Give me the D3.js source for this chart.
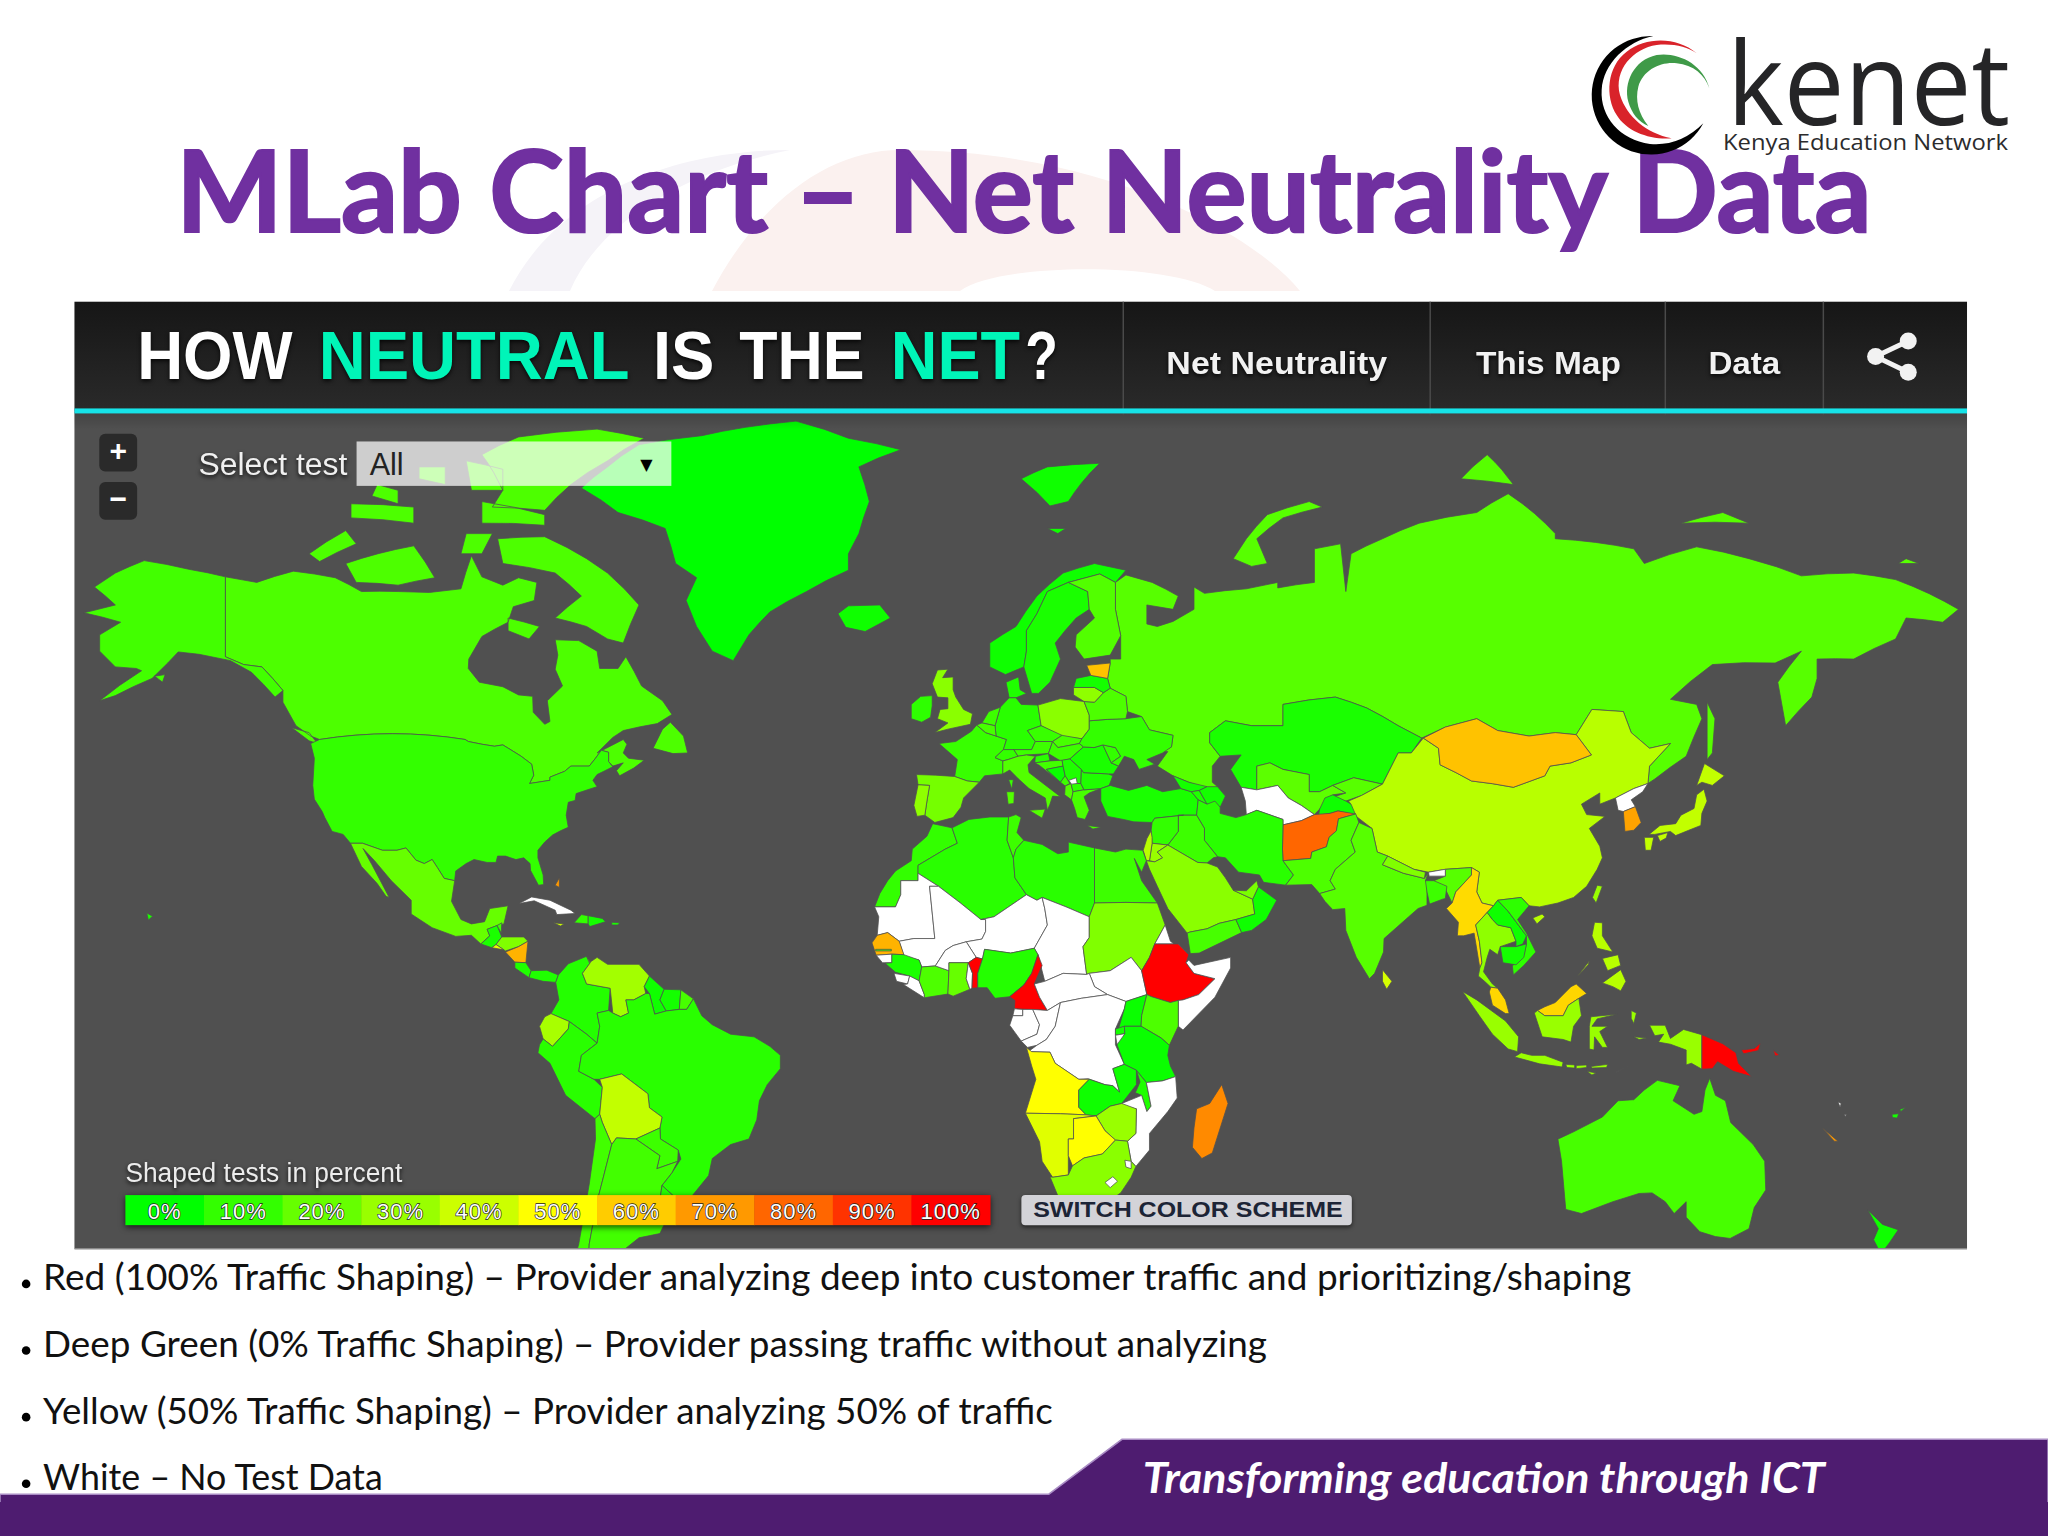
<!DOCTYPE html>
<html><head><meta charset="utf-8">
<script src="https://cdn.jsdelivr.net/npm/d3@7/dist/d3.min.js"></script>
<style>html,body{margin:0;padding:0;background:#fff}svg{display:block}</style>
</head><body><svg id="c" width="2048" height="1536" viewBox="0 0 2048 1536"></svg>
<script>
// ---------- data ----------
const countryNames = ["Greenland","Iceland","Canada","Alaska","USA","Mexico","Guatemala","Belize","Honduras","El Salvador","Nicaragua","Costa Rica","Panama","Cuba","Jamaica","Haiti","Dominican Rep.","Puerto Rico","Bahamas","Hawaii",
"Colombia","Venezuela","Guyana","Suriname","French Guiana","Ecuador","Peru","Brazil","Bolivia","Paraguay","Chile","Argentina","Uruguay",
"Russia","Norway","Sweden","Finland","Denmark","UK","Ireland","France","Spain","Portugal","Germany","Netherlands","Belgium","Switzerland","Austria","Italy","Poland","Czechia","Slovakia","Hungary","Slovenia","Croatia","Bosnia","Serbia","Montenegro","Albania","Macedonia","Kosovo","Greece","Bulgaria","Romania","Moldova","Ukraine","Belarus","Lithuania","Latvia","Estonia",
"Turkey","Georgia","Armenia","Azerbaijan","Kazakhstan","Uzbekistan","Turkmenistan","Kyrgyzstan","Tajikistan","China","Mongolia","North Korea","South Korea","Japan","Taiwan","Afghanistan","Iran","Pakistan","Iraq","Syria","Jordan","Israel","Saudi Arabia","Yemen","Oman","UAE","India","Nepal","Bhutan","Bangladesh","Myanmar","Thailand","Laos","Vietnam","Cambodia","Malaysia","Indonesia","Timor","Papua New Guinea","Philippines","Sri Lanka","Australia","New Zealand","New Caledonia","Vanuatu","Fiji",
"Morocco","Algeria","Tunisia","Libya","Egypt","Mauritania","Mali","Niger","Chad","Sudan","South Sudan","Eritrea","Ethiopia","Somalia","Senegal","Gambia","Guinea-Bissau","Guinea","Sierra Leone","Liberia","Ivory Coast","Burkina Faso","Ghana","Togo","Benin","Nigeria","Cameroon","CAR","Eq. Guinea","Gabon","Congo","DRC","Uganda","Kenya","Rwanda","Burundi","Tanzania","Angola","Zambia","Malawi","Mozambique","Zimbabwe","Namibia","Botswana","South Africa","Lesotho","Swaziland","Madagascar"];
const shapedPercent = [0,3,15,13,10,20,5,12,25,45,65,6,6,null,40,10,4,5,70,5,
7,32,3,4,14,33,8,8,38,12,13,13,7,
17,3,5,16,6,27,9,11,23,28,8,12,14,10,12,16,27,11,14,12,8,13,2,6,12,16,9,null,14,6,5,10,10,15,28,4,62,
5,4,6,4,5,18,null,17,3,36,62,null,68,38,30,80,8,15,12,10,30,36,27,14,3,24,17,25,null,12,57,28,3,9,4,58,30,null,100,36,42,14,3,70,null,4,
10,8,12,8,12,null,null,null,null,25,null,null,100,null,65,12,null,5,null,null,15,null,20,null,100,7,100,null,null,null,null,null,2,15,4,null,2,50,3,6,null,30,44,50,27,null,null,73];

const outlines = {
"Greenland":["-73,78.2 -68,80 -62,81.8 -50,82.5 -32,83.6 -22,82.3 -12,81.4 -20,80 -18,77 -20,74 -22,72 -22,70.3 -30,68 -37,65.7 -41,63 -44,59.8 -48,61 -51,64 -53,67 -51,69.5 -55,71 -57,74.5 -66,76"],
"Iceland":["-24,65.5 -22,66.4 -16,66.5 -14,65 -18.8,63.4 -22.5,63.9"],
"Canada":["-141,69.6 -135,69 -128,70.2 -120,69.5 -115,68 -108,68 -102,67.9 -96,68.3 -94,71.8 -92,69.6 -88,68.7 -85,69.5 -81.5,69 -82,67 -86,66.3 -87,64.5 -92,62.8 -94.5,60 -94.6,58.8 -92.5,57 -88,56.4 -85,55.3 -82.3,55.1 -82.2,52.9 -80,51.2 -79,51.6 -79.5,54.5 -76.6,56.5 -78,58.7 -77.5,60.5 -78,62.4 -73.5,62.3 -70,61 -69.5,58.8 -66,58.8 -64.5,60.3 -61.5,56.5 -57.5,54.5 -55.7,52.6 -58.5,51.3 -65,50.3 -67,49.3 -70,47 -65,49 -64.3,48.3 -65,47 -64,46.2 -61,45.9 -63,44.7 -65.7,43.5 -66.3,44.3 -65,45.5 -67,45 -67.8,45.7 -67.8,47.1 -69.2,47.4 -70.3,46.2 -71.5,45 -75,45 -76.2,44.2 -79,43.3 -79,42.8 -82.9,42.3 -82.1,43.6 -82.5,45.3 -84.5,46.5 -88,48.2 -89.6,48 -92,48.3 -94.6,48.7 -95.2,49 -123,49 -124.7,49.5 -127.5,51 -130,54.3 -130,55.9 -134,59 -137.5,59.3 -141,60.3",
"-80,73.7 -72,71.5 -68,70 -62,66.5 -65,62 -68,62.5 -72,64 -78,65 -73,67.5 -78,70 -88,71 -89,73.5","-118,71 -105,72.8 -101,69.5 -108,68.7 -116,69","-125,72 -118,74.3 -116,73 -123,71.2","-90,76.5 -80,76.2 -75,78.5 -68,80.5 -61,82.3 -70,83 -85,82.4 -92,81 -88,78","-92,75 -80,74.8 -80,75.8 -92,77","-117,75.5 -105,75 -105,76.5 -117,76.8","-95,74 -90,74 -92,72 -96,72","-95,80.5 -88,79.8 -88,78 -94,78","-59.3,47.7 -55.5,46.9 -52.7,47 -53.5,49.5 -56,51.5 -57.5,50.5","-87,65 -81,64 -83,62.5 -87,63.5","-128.3,50.7 -125,50 -123.4,48.4 -125,48.8","-104,79 -99,78.5 -99,80 -104,80","-112,78.5 -108,78 -108,76.8 -113,77.5"],
"Alaska":["-141,69.6 -148,70.4 -156.5,71.3 -162,70 -166,68.5 -162,66.5 -168,65.6 -161,64.5 -165,63 -165,61 -162,59 -158,58.8 -157,58.5 -165,54.5 -162,55.2 -155,57.5 -152,59.5 -150,60.9 -146,60.6 -140,59.8 -136,58.3 -131.5,55 -130,55.9 -134,59 -137.5,59.3 -141,60.3","-154.5,57.8 -152.5,58 -153,57"],
"USA":["-124.7,48.4 -123,49 -95.2,49 -94.6,48.7 -92,48.3 -89.6,48 -88,48.2 -84.5,46.5 -82.5,45.3 -82.1,43.6 -82.9,42.3 -79,42.8 -79,43.3 -76.2,44.2 -75,45 -71.5,45 -70.3,46.2 -69.2,47.4 -67.8,47.1 -67.8,45.7 -67,44.9 -68.5,44.3 -70,43.7 -70.8,42.8 -70,41.8 -71.5,41.4 -74,40.7 -74.2,39.6 -75.5,39.3 -75.9,37.2 -75.5,35.2 -77,34.6 -78.5,33.9 -80,32.7 -81.3,31.3 -81.3,30 -80.3,27 -80.2,25.3 -81.2,25.2 -82.7,27.8 -82.8,29 -84,30 -85.5,29.7 -87.5,30.3 -89,30.3 -89.3,29.2 -91,29.2 -93.5,29.7 -95,29 -97,27.7 -97.2,26 -99.2,26.4 -100.5,28.3 -101.5,29.7 -103,29 -104.6,29.6 -106.5,31.7 -108.2,31.3 -111,31.3 -114.8,32.5 -117.1,32.5 -118.5,34 -120.6,34.5 -122,36.8 -122.5,37.8 -124,39.8 -124.3,42 -124,46.2"],
"Mexico":["-117.1,32.5 -114.8,32.5 -111,31.3 -108.2,31.3 -106.5,31.7 -104.6,29.6 -103,29 -101.5,29.7 -100.5,28.3 -99.2,26.4 -97.2,26 -97.8,22.3 -96,19 -94,18.2 -91.5,18.6 -90.5,21 -87,21.5 -87.8,18.2 -89.1,17.9 -91,17.2 -90.5,16 -92.2,14.5 -94,16.1 -97,15.9 -101.5,17.5 -105.5,20 -105.5,22.5 -109.3,26 -112.5,29.5 -114.7,31.6 -113,28.8 -109.7,23 -110.3,23.2 -112,25.5 -115,28.5"],
"Guatemala":["-92.2,14.5 -90.5,16 -91,17.2 -89.1,17.9 -88.2,15.8 -89.3,14.4 -90.1,13.8"],
"Belize":["-89.1,17.9 -88.2,18.4 -88.3,16.5"],
"Honduras":["-88.2,15.8 -84,15.8 -83.2,15 -85,14 -87.5,13.2 -89.3,14.4"],
"El Salvador":["-90.1,13.8 -89.3,14.4 -87.8,13.4"],
"Nicaragua":["-87.5,13 -85,14 -83.2,15 -83.6,11 -85.7,11.1"],
"Costa Rica":["-85.7,11.1 -83.6,11 -82.6,9.5 -83,8.2 -85.7,10"],
"Panama":["-83,8.2 -82.6,9.5 -79.6,9.6 -77.4,8.7 -77.9,7.3 -80.3,7.5"],
"Cuba":["-84.9,21.9 -82.5,23.1 -79,22.5 -75,20.7 -74.2,20.1 -77.7,19.9 -78,20.7 -82,22.4"],
"Jamaica":["-78.3,18.4 -76.3,18.2 -77,17.8"],
"Haiti":["-74.4,18.4 -73,19.9 -71.7,19.7 -71.7,18.2"],
"Dominican Rep.":["-71.7,19.7 -69,19.2 -68.4,18.6 -71.4,17.7 -71.7,18.2"],
"Puerto Rico":["-67.2,18.5 -65.7,18.4 -66,18 -67.2,18"],
"Bahamas":["-78,25.2 -77.2,26.5 -77.2,24.8"],
"Hawaii":["-156,20.2 -154.9,19.6 -155.7,18.9"],
"Colombia":["-77.4,8.7 -75.5,10.8 -72,12.2 -71.3,11 -72.8,9 -72,7 -67.5,6.2 -67.8,2 -70,1.5 -69.5,-1 -70,-4.2 -72,-2.5 -75.3,-0.1 -78.8,1.4 -77.3,4 -77.9,7.3"],
"Venezuela":["-72,12.2 -71.5,11 -70,12 -68,10.7 -62,10.7 -60,8.5 -61,6.5 -60.7,5.2 -63,4 -64.5,4 -64,1.5 -65.5,0.8 -67,1.5 -67.5,6.2 -72,7 -72.8,9 -71.3,11"],
"Guyana":["-60,8.5 -57.2,6 -58,4 -56.8,1.9 -59,1.3 -60,5.2 -61,6.5"],
"Suriname":["-57.2,6 -54,5.9 -54.3,2.2 -56.8,1.9 -58,4"],
"French Guiana":["-54,5.9 -51.6,4.2 -52.9,2.2 -54.3,2.2"],
"Ecuador":["-78.8,1.4 -75.3,-0.1 -75.5,-1.5 -78.5,-4.8 -80.3,-3.4 -81,-1 -80,0.8"],
"Peru":["-81,-4.5 -80.3,-3.4 -78.5,-4.8 -75.5,-1.5 -75.3,-0.1 -72,-2.5 -70,-4.2 -73,-6.5 -73.5,-9.5 -70.6,-11 -69,-12.5 -69.5,-17.5 -70.4,-18.3 -76,-14 -79,-8 -81.3,-6"],
"Brazil":["-60,5.2 -59,1.3 -56.8,1.9 -54.3,2.2 -52.9,2.2 -51.6,4.2 -50,1 -48,-0.7 -44.5,-2.5 -40,-3 -37,-4.8 -35,-6.5 -35,-9 -37.5,-12 -39,-15 -39.5,-18.5 -41,-22 -44.5,-23 -48,-25.5 -48.7,-28.5 -53.4,-33.7 -57.6,-30.2 -55.7,-28 -54,-25.6 -54.5,-24 -57.9,-22 -58,-20 -57.6,-18 -60,-16.3 -60.3,-13.7 -65.3,-10 -69.5,-11 -70.6,-11 -73.5,-9.5 -73,-6.5 -70,-4.2 -69.5,-1 -70,1.5 -67.8,2 -67,1.5 -65.5,0.8 -64,1.5 -64.5,4 -63,4 -60.7,5.2"],
"Bolivia":["-69.5,-11 -65.3,-10 -60.3,-13.7 -60,-16.3 -57.6,-18 -58,-20 -62.6,-22 -66.3,-21.8 -67.2,-23 -69,-19 -69.5,-17.5 -69,-12.5"],
"Paraguay":["-62.6,-22 -58,-20 -57.9,-22 -54.5,-24 -54.6,-26 -58.6,-27.3 -58,-25"],
"Chile":["-70.4,-18.3 -69.5,-17.5 -69,-19 -67.2,-23 -68.3,-27 -70,-33 -71.5,-40 -72,-48 -72.4,-52 -68.5,-52.3 -69,-55 -74,-52 -75.5,-46 -73.5,-40 -71.5,-30 -70.3,-22"],
"Argentina":["-67.2,-23 -66.3,-21.8 -62.6,-22 -58,-25 -58.6,-27.3 -54.6,-26 -55.7,-28 -57.6,-30.2 -58.2,-34 -57,-36.5 -58,-38.3 -62,-39 -65,-41 -65.5,-45 -68,-50 -68.5,-52.3 -72.4,-52 -72,-48 -71.5,-40 -70,-33 -68.3,-27"],
"Uruguay":["-57.6,-30.2 -53.4,-33.7 -54.9,-35 -58.2,-34"],
"Russia":["28,60 30,60 30,62.9 29,66 29,69 31,69.8 36,69 41,67.5 40,66 35,66.5 35,64.3 37,64 40,64.6 44,66 44,68.5 46,67.8 54,68.3 60,69 60,68.4 67,69 67,72.5 72,73 73,68 74,72 80,73.5 87,75 98,76 104,77.7 113,74 113,73.5 128,72.5 130,71 140,72.7 150,71.5 160,69.7 170,70 178,69.3 190,66 187,64.5 180,65 178,62.5 170,60 163,60 163,57.5 162,55 157,51 155.5,57 160,61 155,59.5 143,59.3 135,54.7 140,54 141,52 138,46.5 132,43 130.7,42.3 131,45 135,48.4 131,47.7 127.5,50 126,53 120,53.3 117,49.7 113,50 108,49.5 102,50.3 98,52 92,50.8 87.5,49.2 83,51 77,53.5 71,55 61,54 61,51 55,51 50,51.7 47,50 47,48.5 49,46.5 47.5,45 47.5,42.5 48.5,41.8 47,41.3 43,42.5 40,43.5 37,45 39,47.2 38,47.2 39.7,47.9 40,49.6 35.5,50.4 34,52.3 31.3,53 31,55.1 28,56.2 27.5,57.5 28,59.5",
"142,54.3 143.5,52 143,47 142,46 142,50","51.5,71.5 55,70.7 58,71 56,73.5 61,75.5 68.5,76.5 66,77 58,75.8 54,73.5","95,79 105,78.5 100,81","137,75 150,75 145,76","178.5,71 182.5,71 180,71.5"],
"Norway":["5,59 5,62 10,64 14,67.5 19,70 25,71 31,70.3 29,69 26,69.9 20,69 16,68 14,65.5 12,63.5 12,61 11.5,59 8,58","11,79 16,80 26,80.3 20,77 16.5,76.6","16,74.5 19.5,74.5 18,74"],
"Sweden":["11.5,59 12,61 12,63.5 14,65.5 16,68 20,69 23.7,68 24,66 21.5,65 17.5,62 18.5,60 16.5,57 14.3,55.5 13,55.5"],
"Finland":["20,69 26,69.9 29,69 29,66 30,62.9 28,60.5 23,60 21.3,61.5 21.5,63 25,65 24,66 23.7,68"],
"Denmark":["8.1,57 10.5,57.7 10.8,56 12,55.5 10,54.9 8.7,54.9"],
"UK":["-5.5,50 -3,50.5 1.3,51.2 1.7,52.7 0,53.3 -1.5,55 -2,56 -2,57.7 -4,57.6 -3,58.7 -5,58.6 -6,56.8 -5,55 -3,54.9 -3,53.4 -4.5,53.3 -5,52 -3,51.4"],
"Ireland":["-6,55.2 -8.2,55.1 -10,54 -10,52 -8,51.5 -6.3,52.2 -6,53.8"],
"France":["-1.7,43.4 -1.2,46 -4.7,48.4 -1.5,48.7 1.5,50.2 2.5,51.1 4.2,50 8.2,49 7.6,47.5 6,46.3 7.5,45.8 7.5,43.8 4,43.5 3,42.5 0.7,42.7","8.6,42.9 9.5,42.9 9.2,41.4"],
"Spain":["-9,43.7 -1.7,43.4 0.7,42.7 3,42.5 0,40 -0.5,38.5 -2,36.8 -5.5,36 -7.4,37.2 -7,39.5 -6.5,42 -8.7,42.1"],
"Portugal":["-8.7,42.1 -6.5,42 -7,39.5 -7.4,37.2 -8.9,37 -9.5,38.8"],
"Germany":["7,53.6 8.7,54.9 10,54.9 11,54 14.2,53.9 14.8,51 12.2,50.3 13.7,48.7 13,47.5 7.6,47.5 8.2,49 6.2,49.5 6,51"],
"Netherlands":["3.5,51.4 4.8,53 7,53.6 6,51"],
"Belgium":["2.5,51.1 3.5,51.4 6,51 6.2,49.5 4.2,50"],
"Switzerland":["6,46.3 7.6,47.5 9.6,47.5 10.4,46.5 8.5,46 7.5,45.8"],
"Austria":["9.6,47.5 13,47.5 13.7,48.7 17,48.7 16.2,46.9 12,46.7 10.4,46.5"],
"Italy":["7.5,43.8 7.5,45.8 8.5,46 10.4,46.5 12,46.7 13.7,46.5 12.3,45.2 12.5,44 16,41.8 18.5,40.2 17,40.3 16.5,39 16,38 15.6,40 12.5,41.5 10.5,43 8.8,44.4","12.5,38 15.6,38.2 15,36.7","8.2,41 9.7,41 9.6,39.1 8.5,39"],
"Poland":["14.2,53.9 18.5,54.8 23,54.4 24,52.5 24,50.5 22.6,49.1 19,49.4 14.8,51"],
"Czechia":["12.2,50.3 14.8,51 18.8,49.6 17,48.7 13.7,48.7"],
"Slovakia":["17,48.7 18.8,49.6 22.6,49.1 22.1,48.4 18,47.8"],
"Hungary":["16.2,46.9 17,48.7 18,47.8 22.1,48.4 22.9,47.9 20.3,46.1 18.5,45.8"],
"Slovenia":["13.7,46.5 16.2,46.9 16.5,45.8 13.6,45.5"],
"Croatia":["13.6,45.5 16.5,45.8 18.8,45.9 19,45 15.8,44.5 18.5,42.5 14.5,45.1"],
"Bosnia":["15.8,44.5 19,45 19.4,43.5 18.5,42.5"],
"Serbia":["18.8,45.9 20.3,46.1 22.5,44.5 22.4,42.3 20.3,42.3 19.4,43.5 19,45"],
"Montenegro":["18.5,42.5 19.4,43.5 20.3,42.3 19.4,41.9"],
"Albania":["19.4,41.9 20.5,42.3 20.9,41 20.6,39.7 19.3,40.5"],
"Macedonia":["20.5,42.3 22.4,42.3 23,41.3 20.9,41"],
"Kosovo":["20.1,42.8 21.5,43.2 21.7,42.3 20.6,42.2"],
"Greece":["20.6,39.7 20.9,41 23,41.3 26.2,41.5 24,40.8 23,40.2 24,38 23.2,36.5 21.7,36.8 21.2,38.3","23.6,35.5 26.3,35.2 24.7,34.9"],
"Bulgaria":["22.5,44.5 22.9,44 27.7,43.8 28.5,43.5 27.8,42 26.2,41.5 23,41.3 22.4,42.3"],
"Romania":["20.3,46.1 22.9,47.9 24.9,47.8 26.6,48.2 28.2,45.5 29.6,45 28.6,43.8 27.7,43.8 22.9,44 22.5,44.5"],
"Moldova":["26.6,48.2 29,47.8 30,46.5 28.2,45.5"],
"Ukraine":["24,50.5 24,51.7 31,52 34,52.3 35.5,50.4 40,49.6 39.7,47.9 38,47 35,46 36.5,45.3 33.5,44.5 32.5,46 30.7,46.5 29.6,45 28.2,45.5 30,46.5 29,47.8 26.6,48.2 24.9,47.8 22.9,47.9 22.1,48.4 22.6,49.1"],
"Belarus":["24,52.5 23,54.4 25,54.3 26.7,55.6 28,56.2 31,55.1 31.3,53 31,52 24,51.7"],
"Lithuania":["21,55.3 21,56.3 25,56.3 26.7,55.6 25,54.3 23,54.4"],
"Latvia":["21,56.3 21.5,57.5 24.3,57.9 27.5,57.5 28,56.2 26.7,55.6 25,56.3"],
"Estonia":["23.5,59.2 28,59.5 27.5,57.5 24.3,57.9"],
"Turkey":["26.2,41.5 28,42 31.5,41.2 35,42 38,41 41.5,41.5 43.5,41 44.8,39.7 44.5,37.2 42,37.2 36.5,36.7 36,36 32.5,36.1 30.5,36.5 27.5,37 26.2,39.5"],
"Georgia":["40,43.5 43,42.5 46.5,41.8 45,41.2 43.5,41 41.5,41.5"],
"Armenia":["43.5,41 45,41.2 46.5,39 44.8,39.7"],
"Azerbaijan":["46.5,41.8 48.5,41.8 50,40.3 49,38.5 46.5,39 45,41.2"],
"Kazakhstan":["47,50 50,51.7 55,51 61,51 61,54 71,55 77,53.5 83,51 87.5,49.2 85.5,47 83,47 80,42.2 74.5,43.2 70.5,42 68,41 66,41 66,43.7 61,44.5 58.5,45.5 56,45 56,41.3 53,41.7 51,44.5 53,46.7 49,46.5 47,48.5"],
"Uzbekistan":["56,45 58.5,45.5 61,44.5 66,43.7 66,41 68,41 70.5,42 73,40.8 70.5,40.5 68,38.2 67,37.3 64.5,38.8 62,40 60,42 56,41.3"],
"Turkmenistan":["53,41.7 56,41.3 60,42 62,40 64.5,38.8 67,37.3 64.5,36.3 61,35.6 61,36.5 56,38 54,37.3 53.8,39.5"],
"Kyrgyzstan":["70.5,42 74.5,43.2 80,42.2 76,40.4 73,39.5 70,40 73,40.8"],
"Tajikistan":["67.8,37.2 68,38.2 69,40 70.5,40.5 73,39.5 75,38.5 75,37.2 71.5,37.9 70,37.5"],
"China":["73.5,39.5 76,40.4 80,42.2 83,47 85.5,47 87.8,49.2 90.7,47.7 91,45.2 97,42.7 105,41.7 111,43.5 112,45 116,45.5 119.9,46.7 117,49.7 120,53.3 126,53 127.5,50 131,47.7 135,48.4 131,45 130.7,42.3 128,41.5 124.5,40 121.5,39 121.5,40.8 118,39 119,37.3 122.5,37 119.5,35 121.5,32 122,30 121,28 119,25 116.5,23 113.5,22 110,21.3 108,21.5 106.5,23 102,22.5 101.2,21.5 99,22 98,24 98.5,27.5 97,28.3 92,28 88.8,27.5 86,28 81,30.3 79,31 78,35 75,37 74,39","108.7,19.3 110.5,20 111,19.5 109.5,18.2"],
"Mongolia":["87.8,49.2 92,50.8 98,52 102,50.3 108,49.5 113,50 117,49.7 119.9,46.7 116,45.5 112,45 111,43.5 105,41.7 97,42.7 91,45.2 90.7,47.7"],
"North Korea":["124.5,40 128,41.5 130.7,42.3 129.7,41 127.5,39.7 128.3,38.6 126,37.8 125,38"],
"South Korea":["126,37.8 128.3,38.6 129.4,36 128,34.7 126.3,34.5"],
"Japan":["130.9,34 133,35.5 136,35.8 137,37.2 139.5,38.3 140,40.5 141.4,41.4 142,39.5 141,37.5 140.8,35.5 138.5,34.7 136,33.8 135,34.5 132,34","140,42 141.5,45.4 145.3,43.5 143,42 141,42.5","130,33.5 131.8,33.5 131.3,31.3 130.2,31.3","132.5,33.8 134.5,34.3 134.2,33.4 133,32.8"],
"Taiwan":["121,25.2 122,25 120.8,22 120.1,23"],
"Afghanistan":["61,35.6 64.5,36.3 67,37.3 70,37.5 71.5,37.9 74.9,37.4 71.6,36.6 71.2,34.6 69.8,33.5 69.3,31.9 66.5,31 66.3,29.9 61,29.5 60.9,31.5"],
"Iran":["44.8,39.7 46.5,39 48,39.5 49,38.5 49,37.5 52,36.8 54,37.3 56,38 61,36.5 61,35.6 60.9,31.5 61,29.5 63,27 61.5,25.2 57.3,25.7 56.5,27 52.5,27.5 50,30 48.5,30.2 46,33 46,35 44.5,37.2"],
"Pakistan":["61,29.5 66.3,29.9 66.5,31 69.3,31.9 69.8,33.5 71.2,34.6 71.6,36.6 74.9,37.4 75.5,36 74,33 74.8,31 71,28 70,26 71,24.5 68,23.7 66.5,25.3 61.5,25.2 63,27"],
"Iraq":["44.5,37.2 46,35 46,33 48.5,30.2 47.7,30 46.5,29.1 44.7,29.2 39,32.2 41,34.5 41,37.2 42,37.2"],
"Syria":["36,36 36.5,36.7 42,37.2 41,37.2 41,34.5 39,32.2 36,32.5 35.8,34.6"],
"Jordan":["35.5,29.5 36,32.5 39,32.2 37,31 38,30 36.5,29.3"],
"Israel":["34.3,31.3 35,33.3 35.8,34.6 36,33.5 36,32.5 35.5,29.5 34.9,29.5"],
"Saudi Arabia":["34.9,29.5 36.5,29.3 38,30 37,31 39,32.2 44.7,29.2 46.5,29.1 48.5,28.4 50,26.5 51.5,24.3 55.2,22.7 55.6,20 52,19 48.8,18.3 46.5,17.3 43.2,16.7 42.7,16.5 39,21 37,25 35.5,28"],
"Yemen":["42.7,16.5 43.2,16.7 46.5,17.3 48.8,18.3 52,19 53.1,16.6 45,12.8 43.3,12.7"],
"Oman":["52,19 55.6,20 55.2,22.7 56.3,24.9 59.8,22.5 57.8,19 55,17 53.1,16.6"],
"UAE":["51.5,24.3 55.2,22.7 56.3,24.9 56,26 54,24.2"],
"India":["68,23.7 71,24.5 70,26 71,28 74.8,31 74,33 75.5,36 78,35 79,31 81,30.3 80,28.8 84,27.3 88,26.4 88.8,27.5 88.2,26 89.8,26 92,26.8 92,28 97,28.3 97,27 94,24 93.3,22 92,24.5 91.5,23 92,25 88.5,25 88.5,21.6 86.8,21 85,19.5 80.3,15.5 80.2,13 78.5,9 77.5,8 75,12 73,17 72.8,21 70.5,20.8 69,22.3"],
"Nepal":["81,30.3 86,28 88.2,27.5 88,26.4 84,27.3 80,28.8"],
"Bhutan":["88.8,27.5 92,28 92,26.8 88.9,26.8"],
"Bangladesh":["88.2,26 89.8,26 92.3,25 92,22.8 91.5,22.7 89,21.8 88.5,24"],
"Myanmar":["92.2,21 93.3,22 94,24 97,27 97,28.3 98.5,27.5 98,24 99,22 101.2,21.5 100,20.3 97.8,18 98.5,15 99,11 98.6,10 97.5,16.5 95.5,16 94.3,16 94.5,18.5"],
"Thailand":["97.8,18 100,20.3 101,19 102,18 104.5,17.5 105.5,15 102.5,14 102,12.5 100.5,13.5 100,12 99.3,9.3 101,7 102,6.2 100.7,6.4 99.5,7.5 98.3,8.5 98.6,10 99,11 98.5,15"],
"Laos":["100,20.3 101.2,21.5 102,22.5 104,20.5 107.5,16 106.8,14.5 105.5,14 105.5,15 104.5,17.5 102,18 101,19"],
"Vietnam":["102,22.5 106.5,23 108,21.5 105.8,19 107.5,16.5 109.3,13 107,10.5 105,8.7 104.8,10.4 107,12.5 107.5,14.5 107.5,16 104,20.5"],
"Cambodia":["102.5,14 105.5,14 107.5,14.5 107,12 105.5,10.6 103,11"],
"Malaysia":["100.7,6.4 102,6.2 103.5,4 104.2,1.4 103.5,1.4 101,3 100.4,5.5","109.6,2 111,1 114.5,1 115.5,3 117.5,4.3 119,5.2 117,7 116,6.5 113,3.5 111,2.7"],
"Indonesia":["95.3,5.6 98,4 103.5,0 106,-3 105.8,-5.8 104,-5.3 101,-2.5 98.5,1","109,1.5 109.6,2 111,1 114.5,1 115.5,3 117.5,4.3 118,1 116.5,-1 116,-4 114.5,-3.5 110.5,-3 110,-1.5","105.2,-6.8 106.5,-6 108.5,-6.5 111,-6.5 114.5,-7.8 114.3,-8.7 110,-8.1","119.8,0.8 124.8,1.3 121,0.4 120,-1 123,-1 121.5,-2 123,-5 122,-5 120.5,-3 120.4,-5.5 119.5,-5.3 119.5,-1","131,-0.8 134,-0.8 135,-3.3 137.5,-1.6 141,-2.6 141,-9.1 139,-8 138,-8.3 138,-5.5 135,-4.4 132.7,-4 133.7,-2.5 132,-2.8","115,-8.2 116.7,-8.3 116.7,-8.9 115.2,-8.8","117,-8.4 119,-8.3 119,-8.8 117,-9","119.8,-8.6 123,-8.2 122.8,-8.8 120,-8.9","127.5,2 128.5,1.5 128,-0.5 127.5,0.5","128,-3 130.5,-3.2 129,-3.5","119,-9.5 120.8,-9.8 120,-10.2"],
"Timor":["124,-10 127,-8.4 125,-9.5"],
"Papua New Guinea":["141,-2.6 145,-4.3 147.5,-6 148,-8 150.5,-10.5 147,-9.5 144,-7.7 143,-9 141,-9.1","148.5,-5.5 151,-5.2 152.2,-4.2 151.8,-5.6 149,-6.2","154.6,-5.5 155.8,-6.5 155,-6.6"],
"Philippines":["120.5,18.5 122,18.4 122,16 124,13 121,13.7 120,16","122,7.2 125.5,9.7 126.5,7.5 125.5,5.7 124,6.5","122,11.8 125,12.5 125.5,10.5 123,9.5","117.2,8.4 119.5,11.3 119.3,10.6"],
"Sri Lanka":["80,9.7 81.8,7.5 80.8,6 80,7.5"],
"Australia":["113.5,-22 114.2,-26 115,-34.3 118,-35 124,-33 129,-31.6 131.5,-31.5 134,-33 135.7,-35 138,-33 138,-35.6 140.6,-38 143.6,-38.8 146.4,-39.1 150,-37.5 151,-34 153.2,-31 153,-26 150.8,-23 146.5,-19 145.5,-15 143.6,-14 142.5,-10.8 141.6,-13 141,-17 139.5,-17.5 135.5,-15 136.8,-12.2 132.5,-11.2 130,-13 128,-14.8 125,-15 122,-18 116.5,-20.7 114,-21.8","144.7,-40.7 148.3,-40.9 148,-43 146,-43.6"],
"New Zealand":["172.7,-34.4 175.5,-36.8 178.5,-37.7 176.9,-39.7 175.2,-41.6 173.8,-39.3 174.7,-37.5"],
"New Caledonia":["164,-20 167,-22.4 166.3,-22.4"],
"Vanuatu":["167,-15.2 167.6,-15.5 167.4,-16.2","168.2,-17.5 168.6,-17.6 168.4,-17.9"],
"Fiji":["177.3,-17.5 178.6,-17.4 178.3,-18.2 177.4,-18.1","178.8,-16.6 179.9,-16.2 179,-17"],
"Morocco":["-5.9,35.8 -2.2,35.1 -1.2,32.5 -3.5,31.5 -8.7,28.7 -8.7,26 -12,26 -12,23.5 -13,21.3 -17,21.3 -16,23.7 -14.5,26 -13,27.7 -10,29.5 -9.8,31.5 -7,33.7"],
"Algeria":["-2.2,35.1 1,36.5 5,36.9 8.6,36.9 8.3,33 9.5,30 9.8,26.5 12,23.5 5.8,19.5 3.3,19 -4.8,25 -8.7,27.3 -8.7,28.7 -3.5,31.5 -1.2,32.5"],
"Tunisia":["8.6,36.9 10,37.3 11,36.8 10.2,34.3 11.5,33 10,31.5 9.5,30 8.3,33"],
"Libya":["11.5,33 15,32.3 18,30.7 20,31 20,32.7 25,31.7 25,22 24,19.5 15,23 14,22.5 12,23.5 9.8,26.5 9.5,30 10,31.5"],
"Egypt":["25,31.7 29,31 31,31.5 34.2,31.3 34.9,29.5 34,27.5 33.6,28.2 32.6,29.9 34,26 37,22 25,22"],
"Mauritania":["-17,21.3 -13,21.3 -12,23.5 -12,26 -8.7,26 -8.7,27.3 -4.8,25 -6.5,25 -5.5,15.5 -9.5,15.5 -12.3,15 -14.5,16.6 -16.5,16.1 -16.2,19.5"],
"Mali":["-4.8,25 3.3,19 4.2,19 4.2,16.8 3.5,15.4 0.5,14.9 -2,14.2 -3.5,13.3 -5.4,10.4 -8,10.2 -8.5,11.5 -11.4,12.2 -12.3,15 -9.5,15.5 -5.5,15.5 -6.5,25"],
"Niger":["3.3,19 5.8,19.5 12,23.5 14,22.5 15,23 15.5,21 16,18 13.5,13.7 9,12.8 4,13.5 3.6,11.7 2.4,12 0.5,14.9 3.5,15.4 4.2,16.8 4.2,19"],
"Chad":["15,23 24,19.5 24,15.7 22.8,14 23.5,8.8 19,9 15.5,7.5 14.2,12.5 13.5,13.7 16,18 15.5,21"],
"Sudan":["24,19.5 25,22 37,22 38.5,18 36.5,14.5 35.5,12 34,9.5 32,12 28,9.5 24,9 23.5,8.8 22.8,14 24,15.7"],
"South Sudan":["24,9 28,9.5 32,12 34,9.5 35,5 31,3.7 27.5,5 25,6.5"],
"Eritrea":["36.5,14.5 38.5,18 39.5,15 43,12.5 41,14.5 37,14.5"],
"Ethiopia":["36.5,14.5 37,14.5 41,14.5 43,12.5 42.5,11 44,9 48,8 44.9,5 41.9,4 39.5,3.5 35.9,4.6 35,5 34,9.5 35.5,12"],
"Somalia":["43,11.5 44,10.5 51,12 51,10 48,4.5 41.9,-1.7 41,-1 41,3.9 41.9,4 44.9,5 48,8 44,9 42.5,11"],
"Senegal":["-16.5,16.1 -14.5,16.6 -12.3,15 -11.4,12.5 -13.7,12.6 -16.7,12.4 -17.5,14.7"],
"Gambia":["-16.8,13.5 -13.8,13.5 -13.8,13.2 -16.8,13.2"],
"Guinea-Bissau":["-16.7,12.4 -13.7,12.6 -13.7,11 -15.5,11"],
"Guinea":["-13.7,12.6 -11.4,12.5 -8.5,11.5 -8,10.2 -8.5,7.6 -10.3,8.5 -13,9.2 -15,10.9 -13.7,11"],
"Sierra Leone":["-13.3,9 -10.3,8.5 -10.7,7 -12.8,7.5"],
"Liberia":["-11.5,6.9 -10.7,7 -10.3,8.5 -8.5,7.6 -7.5,5 -7.5,4.4"],
"Ivory Coast":["-8.5,7.6 -8,10.2 -5.4,10.4 -2.8,9.5 -3,5.1 -7.5,4.4 -7.5,5"],
"Burkina Faso":["-5.4,10.4 -3.5,13.3 -2,14.2 0.5,14.9 2.4,12 0.9,11 -2.8,11 -2.8,9.5"],
"Ghana":["-2.8,11 0.9,11 0.5,8 1.2,6 -2,4.7 -3,5.1 -2.8,9.5"],
"Togo":["0.9,11 1.7,9 1.6,6.2 1.2,6 0.5,8"],
"Benin":["0.9,11 2.4,12 3.6,11.7 2.7,9 2.7,6.3 1.6,6.2 1.7,9"],
"Nigeria":["2.7,6.3 2.7,9 3.6,11.7 4,13.5 9,12.8 13.5,13.7 14.2,12.5 13,9 11.5,6.8 8.8,4.6 6,4.3 4.5,6.3"],
"Cameroon":["8.8,4.6 11.5,6.8 13,9 14.2,12.5 15,10.5 13.5,7 14.5,4.5 16,2 9.7,2.3 9.8,3.9"],
"CAR":["13.5,7 15.5,7.5 19,9 23.5,8.8 24,9 25,6.5 27.5,5 22.5,4.3 18.5,3.5 16,2 14.5,4.5"],
"Eq. Guinea":["9.7,2.3 11.3,2.2 11.3,1 9.4,1"],
"Gabon":["9.4,1 11.3,1 11.3,2.2 13.2,2.2 14.5,-0.7 14,-2.5 11,-3.8 8.8,-0.8"],
"Congo":["11,-3.8 14,-2.5 14.5,-0.7 13.2,2.2 16,2 18.5,3.5 17.5,-1 15.8,-3.5 14,-4.6 12.2,-5"],
"DRC":["12.2,-5.9 13,-5.8 16.5,-5.9 17.5,-8 22,-11 23.8,-10.9 27,-12 28.5,-12.2 29.8,-13.4 28.5,-9 30.7,-8.2 29,-4.5 29,-1.5 30.7,2.3 31,3.7 27.5,5 22.5,4.3 18.5,3.5 17.5,-1 15.8,-3.5 14,-4.6"],
"Uganda":["31,3.7 35,5 34,1 33.9,-1 30.7,-1 29.6,-1.4 30.7,2.3"],
"Kenya":["35,5 35.9,4.6 39.5,3.5 41,3.9 41,-1 39.3,-4.6 37.7,-3.2 33.9,-1 34,1"],
"Rwanda":["29,-1.5 30.7,-1 30.8,-2.4 29,-2.7"],
"Burundi":["29,-2.7 30.8,-2.4 30,-4.5 29.3,-4.4"],
"Tanzania":["33.9,-1 37.7,-3.2 39.3,-4.6 39,-6.5 39.5,-8.5 40.5,-10.5 38,-11.3 34.9,-11.6 33,-9.3 30.7,-8.2 29.3,-4.5 30.8,-2.4 30.7,-1"],
"Angola":["12,-5 13,-5.8 16.5,-5.9 17.5,-8 22,-11 24,-11 22,-13 22,-16.2 23.4,-17.6 18.5,-17.4 11.8,-17.3 13.8,-11 13,-8.5"],
"Zambia":["22,-13 24,-11 27,-12 28.5,-12.2 29.8,-13.4 28.5,-9 30.7,-8.2 33,-9.3 33,-12 30.2,-15.5 28,-16 25.3,-17.8 23.4,-17.6 22,-16.2"],
"Malawi":["33,-9.3 34.9,-11.6 35.8,-16 35,-17 34,-14 32.8,-13.5 33.7,-11.5"],
"Mozambique":["40.5,-10.5 38,-11.3 34.9,-11.6 35.8,-16 35,-17 34,-14 30.2,-15.5 30.4,-16 33,-16.5 32.9,-21 31.3,-22.4 32,-26 32.9,-26.9 35.5,-24 35.5,-21 39,-17 40.8,-14.5"],
"Zimbabwe":["25.3,-17.8 28,-16 30.2,-15.5 33,-16.5 32.9,-21 31.3,-22.4 29,-22.2 27,-20.5"],
"Namibia":["11.8,-17.3 18.5,-17.4 23.4,-17.6 25.3,-17.8 21,-18.3 21,-22 20,-22 20,-28.4 17,-28.8 15,-26 14.5,-22.5"],
"Botswana":["21,-18.3 25.3,-17.8 27,-20.5 29,-22.2 26.5,-24.7 23,-25.4 20.8,-26.8 20,-25 20,-22 21,-22"],
"South Africa":["16.5,-28.7 17,-28.8 20,-28.4 20.8,-26.8 23,-25.4 26.5,-24.7 29,-22.2 31.3,-22.4 32,-26 32.9,-26.9 32,-28.8 30,-31.5 26,-34 20,-34.8 18.5,-34.3 18,-32"],
"Lesotho":["27,-29.7 28.5,-28.7 29.4,-29.5 28,-30.6"],
"Swaziland":["30.8,-25.8 32,-26 32,-27.3 31,-27"],
"Madagascar":["49.3,-12 50.5,-15.5 47.5,-24.5 45.5,-25.5 43.7,-23.5 44,-20 44.5,-16.5 47,-15.5"]
};

const legendTicks = [0,10,20,30,40,50,60,70,80,90,100];
const titleText = "MLab Chart – Net Neutrality Data";
const headerWords = [["HOW",105,224,"#fff"],["NEUTRAL",244,482,"#00f5b8"],["IS",500,547,"#fff"],["THE",566,662,"#fff"],["NET",682,781,"#00f5b8"],["?",785,810,"#fff"]];
const navItems = [["Net Neutrality",893,1062],["This Map",1130,1241],["Data",1308,1363]];
const navDividers = [860,1095,1275,1396];
const bulletLines = [["Red (100% Traffic Shaping) – Provider analyzing deep into customer traffic and prioritizing/shaping",1249,988],["Deep Green (0% Traffic Shaping) – Provider passing traffic without analyzing",970,1039],["Yellow (50% Traffic Shaping) – Provider analyzing 50% of traffic",806,1090],["White – No Test Data",293,1141]];

// ---------- helpers ----------
const S = 2048/1568;           // reference layout unit
const svg = d3.select("#c");
const defs = svg.append("defs");
const ringFix = r => { const pts = r.split(" ").map(p=>p.split(",").map(Number)); pts.push(pts[0]);
  return d3.geoArea({type:"Polygon",coordinates:[pts]})>2*Math.PI ? pts.slice().reverse() : pts; };
const color = d3.scaleLinear().domain([0,50,100]).range(["#00ff00","#ffff00","#ff0000"]);
const txt = (g,s,x,y,o={}) => { const t=g.append("text").attr("x",x).attr("y",y).text(s)
   .attr("font-family",o.f||"Lato").attr("font-size",o.s||20).attr("fill",o.c||"#000")
   .attr("font-weight",o.w||400).attr("font-style",o.i?"italic":"normal");
  if(o.len) t.attr("textLength",o.len).attr("lengthAdjust","spacingAndGlyphs");
  if(o.a) t.attr("text-anchor",o.a);
  if(o.sh) t.style("filter",o.sh);
  return t; };

svg.append("rect").attr("width",2048).attr("height",1536).attr("fill","#fff");

// faint watermark
svg.append("path").attr("fill","#fbf1ef").attr("d","M712,291 C760,200 830,150 900,150 C1100,150 1250,230 1300,291 L1215,291 C1170,262 1000,262 960,291 Z");
svg.append("path").attr("fill","#f5f3f8").attr("d","M509,291 C560,190 680,150 790,150 C690,170 600,220 570,291 Z");

// title (drawn under the logo)
txt(svg,titleText,135*S,178*S,{s:113,w:700,c:"#7030a0",len:1298*S}).attr("stroke","#7030a0").attr("stroke-width",2.2);

// logo
const logo = svg.append("g").attr("transform","translate(1570,20) scale(0.3333)");
logo.append("path").attr("fill","#000").attr("d","M250,48 A178,178 0 1 0 400,310 Q330,380 240,372 C150,360 90,290 95,210 C100,130 170,65 250,48 Z");
logo.append("path").attr("fill","#d9232a").attr("d","M380,100 C320,50 230,50 170,95 C110,140 105,230 140,285 C170,335 240,360 305,355 C230,340 170,290 150,225 C130,150 190,85 260,75 C310,70 350,80 380,100 Z");
logo.append("path").attr("fill","#3f9a48").attr("d","M418,205 C400,130 320,95 260,105 C190,120 160,190 175,245 C185,280 205,305 235,318 C205,280 195,240 205,200 C220,150 270,125 320,130 C370,135 405,165 418,205 Z");
txt(svg,"kenet",1727,125,{f:"Open Sans",s:116,c:"#252527",len:283});
txt(svg,"Kenya Education Network",1723,150,{f:"Open Sans",s:21.5,c:"#2b2b2d",len:285});

// panel
const px0=57*S, px1=1506*S, py0=231*S, pyH=315*S, py1=956*S;
const g1=defs.append("linearGradient").attr("id","hdr").attr("x2",0).attr("y2",1);
g1.append("stop").attr("offset",0).attr("stop-color","#161616");g1.append("stop").attr("offset",1).attr("stop-color","#2a2a2a");
const g2=defs.append("linearGradient").attr("id","shade").attr("x2",0).attr("y2",1);
g2.append("stop").attr("offset",0).attr("stop-color","#000").attr("stop-opacity",.18);g2.append("stop").attr("offset",1).attr("stop-color","#000").attr("stop-opacity",0);
defs.append("clipPath").attr("id","mapclip").append("rect").attr("x",px0).attr("y",pyH).attr("width",px1-px0).attr("height",py1-pyH);
svg.append("rect").attr("x",px0).attr("y",pyH).attr("width",px1-px0).attr("height",py1-pyH).attr("fill","#505050");

// map
const miller = (l,p)=>[l,1.26*Math.log(Math.tan(Math.PI/4+0.4*p))];
const projection = d3.geoProjection(miller).rotate([-11,0]).scale(300).translate([1021.2,1021]).precision(.3);
const path = d3.geoPath(projection);
const mapG = svg.append("g").attr("clip-path","url(#mapclip)");
mapG.selectAll("path").data(countryNames).join("path")
  .attr("d",n=>path({type:"MultiPolygon",coordinates:outlines[n].map(r=>[ringFix(r)])}))
  .attr("fill",(n,i)=>shapedPercent[i]===null?"#fff":color(shapedPercent[i]))
  .attr("stroke","#505050").attr("stroke-width",.9).attr("stroke-opacity",.85).attr("stroke-linejoin","round");
svg.append("rect").attr("x",px0).attr("y",pyH).attr("width",px1-px0).attr("height",18).attr("fill","url(#shade)");
svg.append("line").attr("x1",px0).attr("x2",px1).attr("y1",py1).attr("y2",py1).attr("stroke","#8a8a8a").attr("stroke-width",1.5);

// header
svg.append("rect").attr("x",px0).attr("y",py0).attr("width",px1-px0).attr("height",pyH-py0).attr("fill","url(#hdr)");
navDividers.forEach(x=>svg.append("line").attr("x1",x*S).attr("x2",x*S).attr("y1",py0).attr("y2",pyH+4).attr("stroke","#4a4a4a").attr("stroke-width",1.5));
svg.append("rect").attr("x",px0).attr("y",pyH-3).attr("width",px1-px0).attr("height",5).attr("fill","#16e3e8");
const dark="drop-shadow(0 2px 2px rgba(0,0,0,.8))";
headerWords.forEach(w=>txt(svg,w[0],w[1]*S,290*S,{f:"Liberation Sans",w:700,s:69,c:w[3],len:(w[2]-w[1])*S,sh:dark}));
navItems.forEach(n=>txt(svg,n[0],n[1]*S,286*S,{f:"Liberation Sans",w:700,s:32,c:"#f2f2f2",len:(n[2]-n[1])*S,sh:dark}));
const sh=svg.append("g").attr("fill","#f2f2f2").attr("stroke","#f2f2f2");
[[1461,261],[1436,273],[1461,285]].forEach(p=>sh.append("circle").attr("cx",p[0]*S).attr("cy",p[1]*S).attr("r",8.5).attr("stroke","none"));
sh.append("polyline").attr("points",[[1461,261],[1436,273],[1461,285]].map(p=>p.map(v=>v*S).join(",")).join(" ")).attr("fill","none").attr("stroke-width",5);

// zoom buttons
[[332,"+"],[369,"−"]].forEach(b=>{
  svg.append("rect").attr("x",76*S).attr("y",b[0]*S).attr("width",29*S).attr("height",29*S).attr("rx",6).attr("fill","#2a2a2a");
  txt(svg,b[1],90.5*S,(b[0]+21)*S,{f:"Liberation Sans",w:700,s:30,c:"#fff",a:"middle"});
});
// select
txt(svg,"Select test",152*S,364*S,{f:"Liberation Sans",s:31,c:"#f0f0f0",len:114*S,sh:dark});
svg.append("rect").attr("x",273*S).attr("y",338*S).attr("width",241*S).attr("height",34*S).attr("fill","#fff").attr("fill-opacity",.72);
txt(svg,"All",283*S,364*S,{f:"Liberation Sans",s:32,c:"#222",len:26*S});
txt(svg,"▼",495*S,360*S,{f:"DejaVu Sans",s:16,c:"#000",a:"middle"});

// legend
txt(svg,"Shaped tests in percent",96*S,905*S,{f:"Liberation Sans",s:27,c:"#ececec",len:212*S,sh:dark});
const lx = d3.scaleBand().domain(legendTicks).range([96*S,758*S]);
const lg = svg.append("g").style("filter","drop-shadow(0 2px 3px rgba(0,0,0,.7))");
lg.selectAll("rect").data(legendTicks).join("rect").attr("x",d=>lx(d)).attr("y",915*S).attr("width",lx.bandwidth()+.5).attr("height",23*S).attr("fill",d=>color(d));
legendTicks.forEach(d=>txt(svg,d+"%",lx(d)+lx.bandwidth()/2,933*S,{f:"Liberation Sans",s:22,c:"#fff",a:"middle"})
   .attr("stroke","#222").attr("stroke-width",1.3).attr("paint-order","stroke").attr("letter-spacing",1));
svg.append("rect").attr("x",782*S).attr("y",915*S).attr("width",253*S).attr("height",23*S).attr("rx",4).attr("fill","#d3d3d8").style("filter","drop-shadow(0 2px 2px rgba(0,0,0,.6))");
txt(svg,"SWITCH COLOR SCHEME",791*S,932*S,{f:"Liberation Sans",w:700,s:22,c:"#1c2436",len:237*S});

// bullets
bulletLines.forEach(b=>{
  svg.append("circle").attr("cx",20*S).attr("cy",(b[2]-5)*S).attr("r",4.3).attr("fill","#000");
  txt(svg,b[0],33*S,b[2]*S,{s:37,c:"#111",len:(b[1]-33)*S});
});

// footer
svg.append("path").attr("d",`M0,${1144*S} L${803*S},${1144*S} L${859*S},${1102*S} L2048,${1102*S} L2048,1536 L0,1536 Z`).attr("fill","#4e1c70").attr("stroke","#a98cc4").attr("stroke-width",1.5);
svg.append("rect").attr("x",0).attr("y",1150*S).attr("width",2048).attr("height",40).attr("fill","#4e1c70");
txt(svg,"Transforming education through ICT",875*S,1143*S,{s:42,w:700,i:true,c:"#fff",len:522*S});
</script></body></html>
